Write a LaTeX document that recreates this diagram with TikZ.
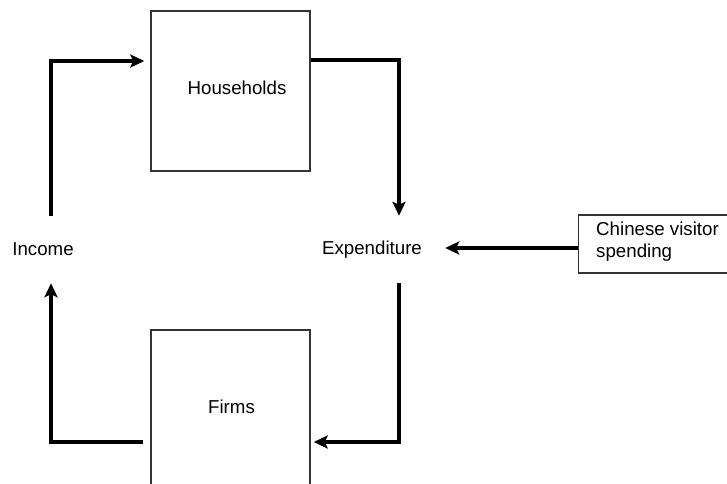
\documentclass[tikz,border=0pt]{standalone}
\usepackage{fontspec}
\setmainfont{Liberation Sans}
\usetikzlibrary{arrows.meta}
\begin{document}
\begin{tikzpicture}[x=1pt,y=-1pt,
  every node/.style={font=\fontsize{18.7}{22.5}\selectfont},
  sector/.style={draw=black!80, line width=1.4pt, minimum width=159pt, minimum height=160pt, inner sep=0pt},
  flowlabel/.style={inner sep=0pt, minimum height=67pt},
  arr/.style={line width=3.1pt, -{Stealth[length=14pt,width=13pt,inset=3pt]}}
]
\useasboundingbox (0,0) rectangle (727,483);
\fill[white] (0,0) rectangle (727,483);
\clip (0,0) rectangle (727,483);

\node[sector] (hh) at (230.5,91) {};
\node (hht) at (237,88) {Households};
\node[sector] (fi) at (230.5,410) {};
\node (fit) at (231.5,407) {Firms};

\node[flowlabel] (inc) at (43,249.5) {Income};
\node[flowlabel, minimum width=146pt] (exp) at (372,249.5) {Expenditure};

\node[draw=black!80, line width=1.3pt, anchor=west, minimum width=162pt,
      minimum height=58pt, inner sep=0pt] (cv) at (578,244) {};
\node[anchor=north west, align=left, inner sep=0pt] (cvt) at (596,221.5)
      {Chinese visitor\\spending};

\draw[arr] ([xshift=8pt]inc.north) |- ([xshift=-6pt,yshift=30pt]hh.west);
\draw[arr] ([yshift=31pt]hh.east) -| ([xshift=27pt]exp.north);
\draw[arr] ([xshift=27pt]exp.south) |- ([xshift=3pt,yshift=-32pt]fi.east);
\draw[arr] ([xshift=-7pt,yshift=-32pt]fi.west) -| ([xshift=8pt]inc.south);
\draw[arr] ([yshift=-4pt]cv.west) -- ([yshift=-4pt]cv.west -| exp.east);
\end{tikzpicture}
\end{document}
